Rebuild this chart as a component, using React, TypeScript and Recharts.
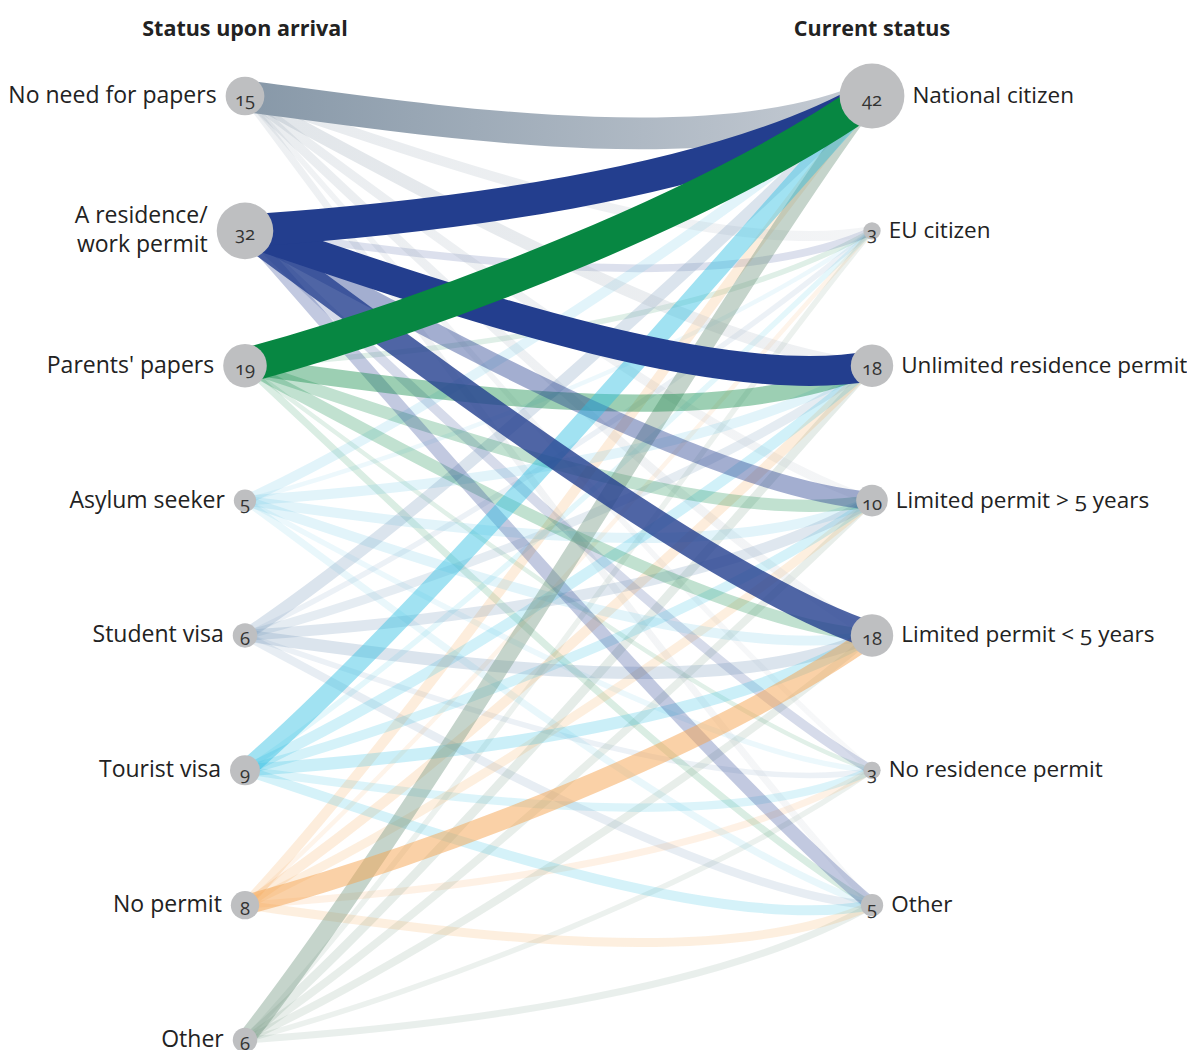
import React from 'react';
import { ScatterChart, Scatter, XAxis, YAxis } from 'recharts';

const sourceNames = ['No need for papers', 'A residence/|work permit', "Parents' papers", 'Asylum seeker', 'Student visa', 'Tourist visa', 'No permit', 'Other'];
const sourceCounts = [15, 32, 19, 5, 6, 9, 8, 6];
const targetNames = ['National citizen', 'EU citizen', 'Unlimited residence permit', 'Limited permit > 5 years', 'Limited permit < 5 years', 'No residence permit', 'Other'];
const targetCounts = [42, 3, 18, 10, 18, 3, 5];

// flows from each source (order of sourceNames) into each target
const toNationalCitizen = [10, 10.5, 12, 1, 1.5, 3.5, 1, 3];
const toEuCitizen = [1, 0.6, 0.3, 0.2, 0.3, 0.3, 0.2, 0.3];
const toUnlimited = [1.5, 9, 3, 1, 0.8, 1.2, 1, 0.8];
const toLimitedOver5 = [0.8, 3.2, 1.5, 1, 1.2, 1, 0.8, 0.6];
const toLimitedUnder5 = [0.8, 7, 1.5, 1, 1.5, 1.5, 4, 0.6];
const toNoResidence = [0.3, 0.9, 0.2, 0.3, 0.3, 0.7, 0.5, 0.3];
const toOtherStatus = [0.5, 1.8, 0.5, 0.5, 0.7, 1, 0.8, 0.5];
const flowsByTarget = [toNationalCitizen, toEuCitizen, toUnlimited, toLimitedOver5, toLimitedUnder5, toNoResidence, toOtherStatus];

const sourceColors = ['#8798a8', '#233e8e', '#078742', '#6cc7e6', '#6f93b8', '#2ebfe2', '#f5a450', '#6e947e'];
const gradientEnd = '#c6ccd4';

const FONT = '"Open Sans", "DejaVu Sans", sans-serif';

type Link = { s: number; t: number; v: number };
const links: Link[] = [];
flowsByTarget.forEach((arr, t) => arr.forEach((v, s) => { if (v > 0) links.push({ s, t, v }); }));
links.sort((a, b) => a.v - b.v);

const leftNodes = sourceNames.map((name, i) => ({ x: 0, y: i, count: sourceCounts[i], name }));
const rightNodes = targetNames.map((name, i) => ({ x: 1, y: i, count: targetCounts[i], name }));

function LinkPath(props: any) {
  const { points, w, color, op, grad, gid } = props;
  if (!points || points.length < 2) return null;
  const a = points[0];
  const b = points[1];
  const L = b.x - a.x;
  const dy = b.y - a.y;
  const c1x = a.x + 0.3 * L;
  const c1y = a.y + 0.28 * dy + 25;
  const c2x = b.x - 0.25 * L;
  const c2y = b.y + 70 - (dy > 0 ? 0.3 : 0.15) * dy;
  const d = `M${a.x},${a.y} C${c1x},${c1y} ${c2x},${c2y} ${b.x},${b.y}`;
  return (
    <g>
      {grad ? (
        <defs>
          <linearGradient id={gid} gradientUnits="userSpaceOnUse" x1={a.x} y1={0} x2={b.x} y2={0}>
            <stop offset="0%" stopColor={color} />
            <stop offset="100%" stopColor={grad} />
          </linearGradient>
        </defs>
      ) : null}
      <path d={d} fill="none" stroke={grad ? `url(#${gid})` : color} strokeOpacity={op} strokeWidth={w} strokeLinecap="butt" />
    </g>
  );
}

function NodeShape(props: any) {
  const { cx, cy, payload, side } = props;
  const r = 5 * Math.sqrt(payload.count);
  const lines = String(payload.name).split('|');
  const isLeft = side === 'left';
  const lx = isLeft ? cx - r - 9 : cx + r + 8;
  const anchor = isLeft ? 'end' : 'start';
  const fs = isLeft ? 23 : 22.5;
  const lh = 29;
  const startY = cy - ((lines.length - 1) * lh) / 2 - 2;
  return (
    <g>
      <circle cx={cx} cy={cy} r={r} fill="#bebfc1" />
      <text x={cx} y={cy + 2} textAnchor="middle" dominantBaseline="central" fontSize={18.5} fill="#333" fontFamily={FONT} style={{ fontVariantNumeric: 'oldstyle-nums' }}>
        {payload.count}
      </text>
      <text x={lx} y={startY} textAnchor={anchor} dominantBaseline="central" fontSize={fs} fill="#222" fontFamily={FONT} style={{ fontVariantNumeric: 'oldstyle-nums' }}>
        {lines.map((ln: string, k: number) => (
          <tspan key={k} x={lx} dy={k === 0 ? 0 : lh}>{ln}</tspan>
        ))}
      </text>
    </g>
  );
}

export default function App() {
  return (
    <div style={{ position: 'relative', width: 1187, height: 1042 }}>
      <ScatterChart width={1187} height={1042} margin={{ top: 88, right: 323, bottom: 10, left: 237 }}>
        <XAxis type="number" dataKey="x" domain={[0, 1]} tickCount={5} hide />
        <YAxis type="number" dataKey="y" domain={[0, 7]} tickCount={8} reversed hide />
        {links.map((lk) => (
          <Scatter
            key={`link-${lk.s}-${lk.t}`}
            data={[{ x: 0, y: lk.s }, { x: 1, y: lk.t }]}
            isAnimationActive={false}
            shape={() => <g />}
            line={
              <LinkPath
                w={10 * Math.sqrt(lk.v)}
                color={sourceColors[lk.s]}
                op={lk.s === 0 && lk.v >= 5 ? 1 : Math.min(1, 0.1 + lk.v / 10)}
                grad={lk.s === 0 ? gradientEnd : undefined}
                gid={`g-${lk.s}-${lk.t}`}
              />
            }
          />
        ))}
        <Scatter data={leftNodes} isAnimationActive={false} shape={(p: any) => <NodeShape {...p} side="left" />} />
        <Scatter data={rightNodes} isAnimationActive={false} shape={(p: any) => <NodeShape {...p} side="right" />} />
      </ScatterChart>
      <svg width={1187} height={60} style={{ position: 'absolute', left: 0, top: 0, pointerEvents: 'none' }}>
        <text x={237} y={28} textAnchor="middle" fontSize={21.5} fontWeight={700} fill="#222" fontFamily={FONT}>Status upon arrival</text>
        <text x={864} y={28} textAnchor="middle" fontSize={21.5} fontWeight={700} fill="#222" fontFamily={FONT}>Current status</text>
      </svg>
    </div>
  );
}
